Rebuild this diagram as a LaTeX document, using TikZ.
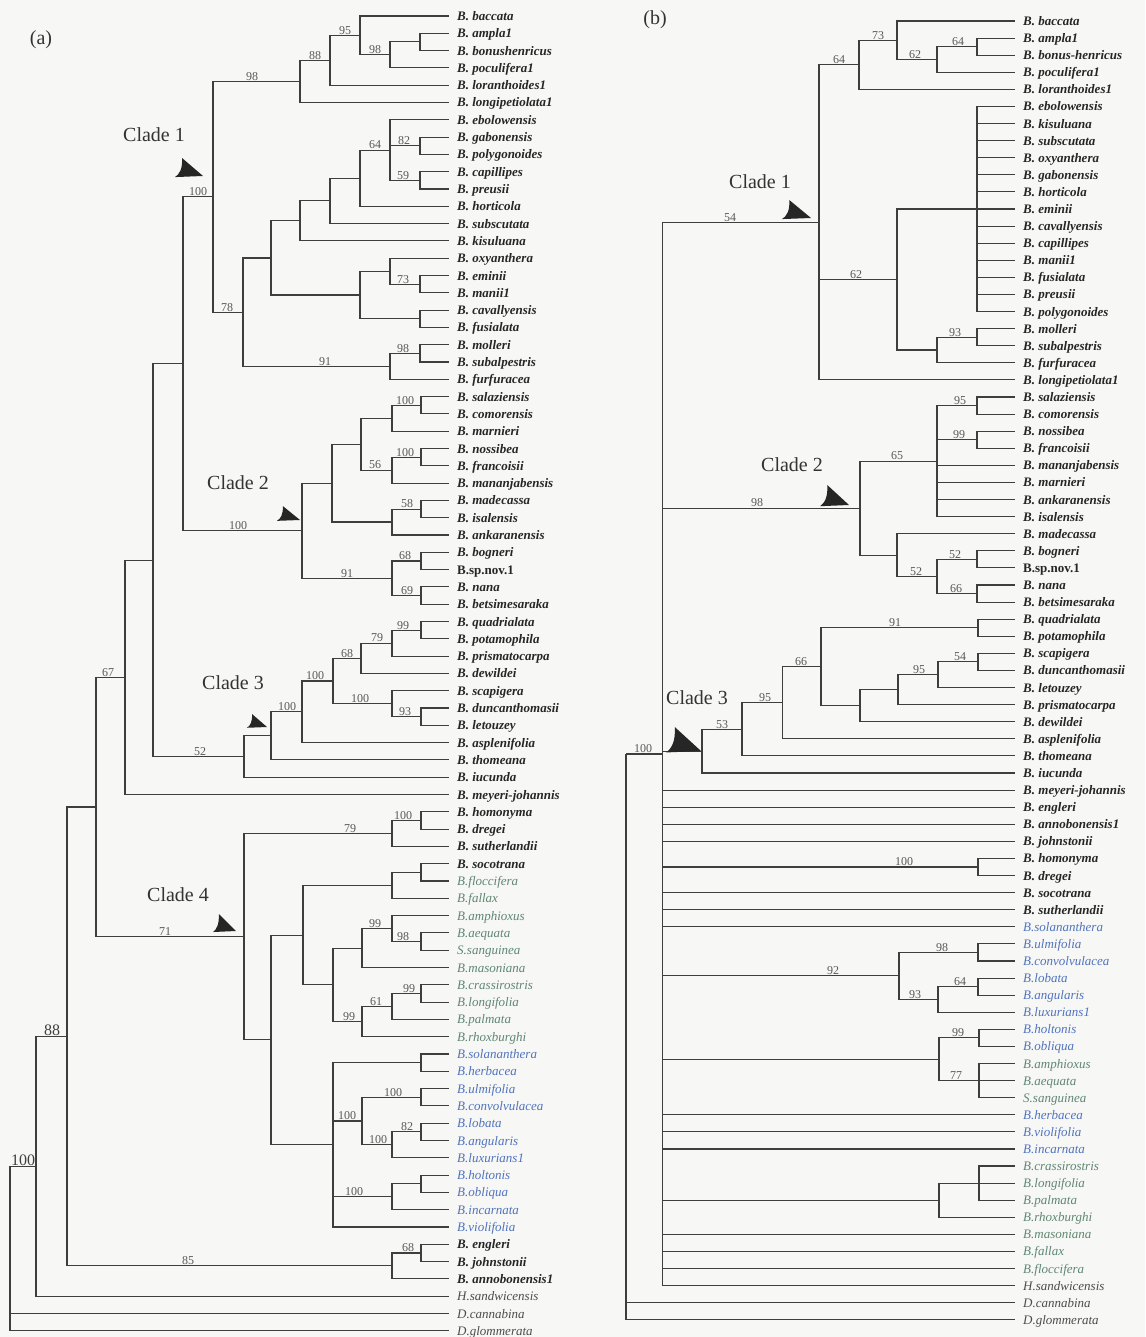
\documentclass[tikz,border=0pt]{standalone}
\usepackage{fontspec}
\setmainfont{Liberation Serif}
\definecolor{lgreen}{RGB}{95,135,115}
\definecolor{lblue}{RGB}{80,115,190}
\definecolor{brc}{RGB}{62,62,62}
\definecolor{bgc}{RGB}{247,247,245}
\newcommand\TrN[4]{\coordinate (#1) at (#2,#3);\foreach \c in {#4} {\draw[br] (#1) |- (\c);}}
\newcommand\LfA[5]{\coordinate (#1) at (#2,#3);\node[#4] (t#1) at ({#2+8},{#3+4.5}) {#5};}
\newcommand\SupV[4]{\node[bs] (#1) at (#2,#3) {#4};}
\newcommand\CArrow[4]{\begin{scope}[shift={(#1,#2)},xscale=#3,yscale=#4]
\fill[black!85] (0,0) -- (-0.75,-1) .. controls (-0.72,-0.4) and (-0.85,-0.08) .. (-1,0.06) -- cycle;
\end{scope}}
\begin{document}
\begin{tikzpicture}[x=1pt,y=-1pt,
  br/.style={draw=brc,line width=1.1pt},
  bs/.style={anchor=south,inner sep=0.8pt,font=\fontsize{12}{13}\selectfont,text=black!65},
  bsbig/.style={anchor=south,inner sep=0.8pt,font=\fontsize{16}{17}\selectfont,text=black!75},
  leafk/.style={anchor=base west,inner sep=0pt,font=\fontsize{13}{15}\selectfont\bfseries\itshape,text=black!85},
  leafr/.style={anchor=base west,inner sep=0pt,font=\fontsize{13}{15}\selectfont\bfseries,text=black!85},
  leafg/.style={anchor=base west,inner sep=0pt,font=\fontsize{13}{15}\selectfont\itshape,text=lgreen},
  leafu/.style={anchor=base west,inner sep=0pt,font=\fontsize{13}{15}\selectfont\itshape,text=lblue},
  leafo/.style={anchor=base west,inner sep=0pt,font=\fontsize{13}{15}\selectfont\itshape,text=black!70},
  cl/.style={inner sep=0pt,font=\fontsize{20}{22}\selectfont,text=black!80}]
\fill[bgc] (0,0) rectangle (1145,1337);
\useasboundingbox (0,0) rectangle (1145,1337);
\node[cl] (pa) at (41,40) {(a)};
\node[cl] (pb) at (655,20) {(b)};
% ---------------- tree (a) leaves
\LfA{la1}{449}{16.0}{leafk}{B. baccata}
\LfA{la2}{449}{33.3}{leafk}{B. ampla1}
\LfA{la3}{449}{50.6}{leafk}{B. bonushenricus}
\LfA{la4}{449}{67.9}{leafk}{B. poculifera1}
\LfA{la5}{449}{85.2}{leafk}{B. loranthoides1}
\LfA{la6}{449}{102.5}{leafk}{B. longipetiolata1}
\LfA{la7}{449}{119.8}{leafk}{B. ebolowensis}
\LfA{la8}{449}{137.1}{leafk}{B. gabonensis}
\LfA{la9}{449}{154.4}{leafk}{B. polygonoides}
\LfA{la10}{449}{171.7}{leafk}{B. capillipes}
\LfA{la11}{449}{189.0}{leafk}{B. preusii}
\LfA{la12}{449}{206.3}{leafk}{B. horticola}
\LfA{la13}{449}{223.6}{leafk}{B. subscutata}
\LfA{la14}{449}{240.9}{leafk}{B. kisuluana}
\LfA{la15}{449}{258.2}{leafk}{B. oxyanthera}
\LfA{la16}{449}{275.5}{leafk}{B. eminii}
\LfA{la17}{449}{292.8}{leafk}{B. manii1}
\LfA{la18}{449}{310.1}{leafk}{B. cavallyensis}
\LfA{la19}{449}{327.4}{leafk}{B. fusialata}
\LfA{la20}{449}{344.7}{leafk}{B. molleri}
\LfA{la21}{449}{362.0}{leafk}{B. subalpestris}
\LfA{la22}{449}{379.3}{leafk}{B. furfuracea}
\LfA{la23}{449}{396.6}{leafk}{B. salaziensis}
\LfA{la24}{449}{413.9}{leafk}{B. comorensis}
\LfA{la25}{449}{431.2}{leafk}{B. marnieri}
\LfA{la26}{449}{448.5}{leafk}{B. nossibea}
\LfA{la27}{449}{465.8}{leafk}{B. francoisii}
\LfA{la28}{449}{483.1}{leafk}{B. mananjabensis}
\LfA{la29}{449}{500.4}{leafk}{B. madecassa}
\LfA{la30}{449}{517.7}{leafk}{B. isalensis}
\LfA{la31}{449}{535.0}{leafk}{B. ankaranensis}
\LfA{la32}{449}{552.3}{leafk}{B. bogneri}
\LfA{la33}{449}{569.6}{leafr}{B.sp.nov.1}
\LfA{la34}{449}{586.9}{leafk}{B. nana}
\LfA{la35}{449}{604.2}{leafk}{B. betsimesaraka}
\LfA{la36}{449}{621.5}{leafk}{B. quadrialata}
\LfA{la37}{449}{638.8}{leafk}{B. potamophila}
\LfA{la38}{449}{656.1}{leafk}{B. prismatocarpa}
\LfA{la39}{449}{673.4}{leafk}{B. dewildei}
\LfA{la40}{449}{690.7}{leafk}{B. scapigera}
\LfA{la41}{449}{708.0}{leafk}{B. duncanthomasii}
\LfA{la42}{449}{725.3}{leafk}{B. letouzey}
\LfA{la43}{449}{742.6}{leafk}{B. asplenifolia}
\LfA{la44}{449}{759.9}{leafk}{B. thomeana}
\LfA{la45}{449}{777.2}{leafk}{B. iucunda}
\LfA{la46}{449}{794.5}{leafk}{B. meyeri-johannis}
\LfA{la47}{449}{811.8}{leafk}{B. homonyma}
\LfA{la48}{449}{829.1}{leafk}{B. dregei}
\LfA{la49}{449}{846.4}{leafk}{B. sutherlandii}
\LfA{la50}{449}{863.7}{leafk}{B. socotrana}
\LfA{la51}{449}{881.0}{leafg}{B.floccifera}
\LfA{la52}{449}{898.3}{leafg}{B.fallax}
\LfA{la53}{449}{915.6}{leafg}{B.amphioxus}
\LfA{la54}{449}{932.9}{leafg}{B.aequata}
\LfA{la55}{449}{950.2}{leafg}{S.sanguinea}
\LfA{la56}{449}{967.5}{leafg}{B.masoniana}
\LfA{la57}{449}{984.8}{leafg}{B.crassirostris}
\LfA{la58}{449}{1002.1}{leafg}{B.longifolia}
\LfA{la59}{449}{1019.4}{leafg}{B.palmata}
\LfA{la60}{449}{1036.7}{leafg}{B.rhoxburghi}
\LfA{la61}{449}{1054.0}{leafu}{B.solananthera}
\LfA{la62}{449}{1071.3}{leafu}{B.herbacea}
\LfA{la63}{449}{1088.6}{leafu}{B.ulmifolia}
\LfA{la64}{449}{1105.9}{leafu}{B.convolvulacea}
\LfA{la65}{449}{1123.2}{leafu}{B.lobata}
\LfA{la66}{449}{1140.5}{leafu}{B.angularis}
\LfA{la67}{449}{1157.8}{leafu}{B.luxurians1}
\LfA{la68}{449}{1175.1}{leafu}{B.holtonis}
\LfA{la69}{449}{1192.4}{leafu}{B.obliqua}
\LfA{la70}{449}{1209.7}{leafu}{B.incarnata}
\LfA{la71}{449}{1227.0}{leafu}{B.violifolia}
\LfA{la72}{449}{1244.3}{leafk}{B. engleri}
\LfA{la73}{449}{1261.6}{leafk}{B. johnstonii}
\LfA{la74}{449}{1278.9}{leafk}{B. annobonensis1}
\LfA{la75}{449}{1296.2}{leafo}{H.sandwicensis}
\LfA{la76}{449}{1313.5}{leafo}{D.cannabina}
\LfA{la77}{449}{1330.8}{leafo}{D.glommerata}
% ---------------- tree (a) internal nodes
\TrN{aA1}{420}{41.95}{la2,la3}
\TrN{aA2}{390}{54.9}{aA1,la4}
\TrN{aA3}{360}{35.5}{la1,aA2}
\TrN{aA4}{330}{60.3}{aA3,la5}
\TrN{aA5}{300}{81.4}{aA4,la6}
\TrN{aB1}{420}{145.75}{la8,la9}
\TrN{aB2}{420}{180.35}{la10,la11}
\TrN{aB3}{390}{150.1}{la7,aB1,aB2}
\TrN{aB4}{360}{178.2}{aB3,la12}
\TrN{aB5}{330}{200.9}{aB4,la13}
\TrN{aB6}{300}{220.9}{aB5,la14}
\TrN{aB7}{420}{284.15}{la16,la17}
\TrN{aB8}{390}{271.2}{la15,aB7}
\TrN{aB9}{420}{318.75}{la18,la19}
\TrN{aB10}{360}{295.0}{aB8,aB9}
\TrN{aB11}{271}{258.0}{aB6,aB10}
\TrN{aB12}{420}{353.35}{la20,la21}
\TrN{aB13}{390}{366.3}{aB12,la22}
\TrN{aB14}{243}{312.2}{aB11,aB13}
\TrN{aC1}{213}{196.8}{aA5,aB14}
\TrN{aD1}{421}{405.25}{la23,la24}
\TrN{aD2}{392}{418.2}{aD1,la25}
\TrN{aD3}{421}{457.15}{la26,la27}
\TrN{aD4}{392}{470.1}{aD3,la28}
\TrN{aD5}{361}{444.2}{aD2,aD4}
\TrN{aD6}{421}{509.05}{la29,la30}
\TrN{aD7}{392}{522.0}{aD6,la31}
\TrN{aD8}{332}{483.1}{aD5,aD7}
\TrN{aD9}{421}{560.95}{la32,la33}
\TrN{aD10}{421}{595.55}{la34,la35}
\TrN{aD11}{392}{578.25}{aD9,aD10}
\TrN{aC2}{302}{530.7}{aD8,aD11}
\TrN{aE1}{183}{363.75}{aC1,aC2}
\TrN{aF1}{421}{630.15}{la36,la37}
\TrN{aF2}{392}{643.1}{aF1,la38}
\TrN{aF3}{361}{658.3}{aF2,la39}
\TrN{aF4}{421}{716.65}{la41,la42}
\TrN{aF5}{392}{703.7}{la40,aF4}
\TrN{aF6}{333}{681.0}{aF3,aF5}
\TrN{aF7}{302}{711.8}{aF6,la43}
\TrN{aC3}{271}{735.85}{aF7,la44}
\TrN{aF8}{244}{756.5}{aC3,la45}
\TrN{aE2}{153}{560.1}{aE1,aF8}
\TrN{aE3}{125}{677.3}{aE2,la46}
\TrN{aG1}{421}{820.45}{la47,la48}
\TrN{aG2}{392}{833.4}{aG1,la49}
\TrN{aG3}{421}{872.35}{la50,la51}
\TrN{aG4}{392}{885.3}{aG3,la52}
\TrN{aG5}{421}{941.55}{la54,la55}
\TrN{aG6}{392}{928.6}{la53,aG5}
\TrN{aG7}{362}{948.05}{aG6,la56}
\TrN{aG8}{421}{993.45}{la57,la58}
\TrN{aG9}{392}{1006.4}{aG8,la59}
\TrN{aG10}{362}{1021.55}{aG9,la60}
\TrN{aG11}{333}{984.8}{aG7,aG10}
\TrN{aG12}{303}{935.05}{aG4,aG11}
\TrN{aH1}{421}{1062.65}{la61,la62}
\TrN{aH2}{421}{1097.25}{la63,la64}
\TrN{aH3}{421}{1131.85}{la65,la66}
\TrN{aH4}{392}{1144.8}{aH3,la67}
\TrN{aH5}{362}{1121.0}{aH2,aH4}
\TrN{aH6}{421}{1183.75}{la68,la69}
\TrN{aH7}{392}{1196.7}{aH6,la70}
\TrN{aH8}{333}{1144.8}{aH1,aH5,aH7,la71}
\TrN{aH9}{271}{1039.9}{aG12,aH8}
\TrN{aC4}{244}{936.65}{aG2,aH9}
\TrN{aE4}{96}{807.0}{aE3,aC4}
\TrN{aI1}{421}{1252.95}{la72,la73}
\TrN{aI2}{392}{1265.9}{aI1,la74}
\TrN{aE5}{67}{1036.45}{aE4,aI2}
\TrN{aE6}{36}{1166.3}{aE5,la75}
\TrN{aR}{10}{1166.3}{aE6,la76,la77}
% ---------------- tree (a) support values
\SupV{sA2}{375}{54.9}{98}
\SupV{sA3}{345}{35.5}{95}
\SupV{sA4}{315}{60.3}{88}
\SupV{sA5}{252}{81.4}{98}
\SupV{sB1}{404}{145.75}{82}
\SupV{sB2}{403}{180.35}{59}
\SupV{sB3}{375}{150.1}{64}
\SupV{sB7}{403}{284.15}{73}
\SupV{sB12}{403}{353.35}{98}
\SupV{sB13}{325}{366.3}{91}
\SupV{sB14}{227}{312.2}{78}
\SupV{sC1}{198}{196.8}{100}
\SupV{sD1}{405}{405.25}{100}
\SupV{sD3}{405}{457.15}{100}
\SupV{sD4}{375}{470.1}{56}
\SupV{sD6}{407}{509.05}{58}
\SupV{sD9}{405}{560.95}{68}
\SupV{sD10}{407}{595.55}{69}
\SupV{sD11}{347}{578.25}{91}
\SupV{sC2}{238}{530.7}{100}
\SupV{sF1}{403}{630.15}{99}
\SupV{sF2}{377}{643.1}{79}
\SupV{sF3}{347}{658.3}{68}
\SupV{sF4}{405}{716.65}{93}
\SupV{sF5}{360}{703.7}{100}
\SupV{sF6}{315}{681.0}{100}
\SupV{sF7}{287}{711.8}{100}
\SupV{sF8}{200}{756.5}{52}
\SupV{sE3}{108}{677.3}{67}
\SupV{sG1}{403}{820.45}{100}
\SupV{sG2}{350}{833.4}{79}
\SupV{sG5}{403}{941.55}{98}
\SupV{sG6}{375}{928.6}{99}
\SupV{sG8}{409}{993.45}{99}
\SupV{sG9}{376}{1006.4}{61}
\SupV{sG10}{349}{1021.55}{99}
\SupV{sH2}{393}{1097.25}{100}
\SupV{sH3}{407}{1131.85}{82}
\SupV{sH4}{378}{1144.8}{100}
\SupV{sH5}{347}{1121.0}{100}
\SupV{sH7}{354}{1196.7}{100}
\SupV{sC4}{165}{936.65}{71}
\SupV{sI1}{408}{1252.95}{68}
\SupV{sI2}{188}{1265.9}{85}
\node[bsbig] (sE5) at (52,1036.45) {88};
\node[bsbig] (sE6) at (23,1166.3) {100};
% ---------------- tree (a) clade marks
\node[cl] (ka1) at (154,135) {Clade 1};
\node[cl] (ka2) at (238,483) {Clade 2};
\node[cl] (ka3) at (233,683) {Clade 3};
\node[cl] (ka4) at (178,895) {Clade 4};
\CArrow{203}{176}{28}{18}
\CArrow{300}{520}{23}{14}
\CArrow{267}{727}{20}{13}
\CArrow{236}{931}{23}{17}
% ---------------- tree (b) leaves
\LfA{lb1}{1015}{21.00}{leafk}{B. baccata}
\LfA{lb2}{1015}{38.09}{leafk}{B. ampla1}
\LfA{lb3}{1015}{55.18}{leafk}{B. bonus-henricus}
\LfA{lb4}{1015}{72.27}{leafk}{B. poculifera1}
\LfA{lb5}{1015}{89.36}{leafk}{B. loranthoides1}
\LfA{lb6}{1015}{106.45}{leafk}{B. ebolowensis}
\LfA{lb7}{1015}{123.54}{leafk}{B. kisuluana}
\LfA{lb8}{1015}{140.63}{leafk}{B. subscutata}
\LfA{lb9}{1015}{157.72}{leafk}{B. oxyanthera}
\LfA{lb10}{1015}{174.81}{leafk}{B. gabonensis}
\LfA{lb11}{1015}{191.90}{leafk}{B. horticola}
\LfA{lb12}{1015}{208.99}{leafk}{B. eminii}
\LfA{lb13}{1015}{226.08}{leafk}{B. cavallyensis}
\LfA{lb14}{1015}{243.17}{leafk}{B. capillipes}
\LfA{lb15}{1015}{260.26}{leafk}{B. manii1}
\LfA{lb16}{1015}{277.35}{leafk}{B. fusialata}
\LfA{lb17}{1015}{294.44}{leafk}{B. preusii}
\LfA{lb18}{1015}{311.53}{leafk}{B. polygonoides}
\LfA{lb19}{1015}{328.62}{leafk}{B. molleri}
\LfA{lb20}{1015}{345.71}{leafk}{B. subalpestris}
\LfA{lb21}{1015}{362.80}{leafk}{B. furfuracea}
\LfA{lb22}{1015}{379.89}{leafk}{B. longipetiolata1}
\LfA{lb23}{1015}{396.98}{leafk}{B. salaziensis}
\LfA{lb24}{1015}{414.07}{leafk}{B. comorensis}
\LfA{lb25}{1015}{431.16}{leafk}{B. nossibea}
\LfA{lb26}{1015}{448.25}{leafk}{B. francoisii}
\LfA{lb27}{1015}{465.34}{leafk}{B. mananjabensis}
\LfA{lb28}{1015}{482.43}{leafk}{B. marnieri}
\LfA{lb29}{1015}{499.52}{leafk}{B. ankaranensis}
\LfA{lb30}{1015}{516.61}{leafk}{B. isalensis}
\LfA{lb31}{1015}{533.70}{leafk}{B. madecassa}
\LfA{lb32}{1015}{550.79}{leafk}{B. bogneri}
\LfA{lb33}{1015}{567.88}{leafr}{B.sp.nov.1}
\LfA{lb34}{1015}{584.97}{leafk}{B. nana}
\LfA{lb35}{1015}{602.06}{leafk}{B. betsimesaraka}
\LfA{lb36}{1015}{619.15}{leafk}{B. quadrialata}
\LfA{lb37}{1015}{636.24}{leafk}{B. potamophila}
\LfA{lb38}{1015}{653.33}{leafk}{B. scapigera}
\LfA{lb39}{1015}{670.42}{leafk}{B. duncanthomasii}
\LfA{lb40}{1015}{687.51}{leafk}{B. letouzey}
\LfA{lb41}{1015}{704.60}{leafk}{B. prismatocarpa}
\LfA{lb42}{1015}{721.69}{leafk}{B. dewildei}
\LfA{lb43}{1015}{738.78}{leafk}{B. asplenifolia}
\LfA{lb44}{1015}{755.87}{leafk}{B. thomeana}
\LfA{lb45}{1015}{772.96}{leafk}{B. iucunda}
\LfA{lb46}{1015}{790.05}{leafk}{B. meyeri-johannis}
\LfA{lb47}{1015}{807.14}{leafk}{B. engleri}
\LfA{lb48}{1015}{824.23}{leafk}{B. annobonensis1}
\LfA{lb49}{1015}{841.32}{leafk}{B. johnstonii}
\LfA{lb50}{1015}{858.41}{leafk}{B. homonyma}
\LfA{lb51}{1015}{875.50}{leafk}{B. dregei}
\LfA{lb52}{1015}{892.59}{leafk}{B. socotrana}
\LfA{lb53}{1015}{909.68}{leafk}{B. sutherlandii}
\LfA{lb54}{1015}{926.77}{leafu}{B.solananthera}
\LfA{lb55}{1015}{943.86}{leafu}{B.ulmifolia}
\LfA{lb56}{1015}{960.95}{leafu}{B.convolvulacea}
\LfA{lb57}{1015}{978.04}{leafu}{B.lobata}
\LfA{lb58}{1015}{995.13}{leafu}{B.angularis}
\LfA{lb59}{1015}{1012.22}{leafu}{B.luxurians1}
\LfA{lb60}{1015}{1029.31}{leafu}{B.holtonis}
\LfA{lb61}{1015}{1046.40}{leafu}{B.obliqua}
\LfA{lb62}{1015}{1063.49}{leafg}{B.amphioxus}
\LfA{lb63}{1015}{1080.58}{leafg}{B.aequata}
\LfA{lb64}{1015}{1097.67}{leafg}{S.sanguinea}
\LfA{lb65}{1015}{1114.76}{leafu}{B.herbacea}
\LfA{lb66}{1015}{1131.85}{leafu}{B.violifolia}
\LfA{lb67}{1015}{1148.94}{leafu}{B.incarnata}
\LfA{lb68}{1015}{1166.03}{leafg}{B.crassirostris}
\LfA{lb69}{1015}{1183.12}{leafg}{B.longifolia}
\LfA{lb70}{1015}{1200.21}{leafg}{B.palmata}
\LfA{lb71}{1015}{1217.30}{leafg}{B.rhoxburghi}
\LfA{lb72}{1015}{1234.39}{leafg}{B.masoniana}
\LfA{lb73}{1015}{1251.48}{leafg}{B.fallax}
\LfA{lb74}{1015}{1268.57}{leafg}{B.floccifera}
\LfA{lb75}{1015}{1285.66}{leafo}{H.sandwicensis}
\LfA{lb76}{1015}{1302.75}{leafo}{D.cannabina}
\LfA{lb77}{1015}{1319.84}{leafo}{D.glommerata}
% ---------------- tree (b) internal nodes
\TrN{bA1}{977}{46.64}{lb2,lb3}
\TrN{bA2}{937}{59.46}{bA1,lb4}
\TrN{bA3}{897}{40.23}{lb1,bA2}
\TrN{bA4}{859}{64.8}{bA3,lb5}
\TrN{bB1}{977}{209.0}{lb6,lb7,lb8,lb9,lb10,lb11,lb12,lb13,lb14,lb15,lb16,lb17,lb18}
\TrN{bB2}{977}{337.17}{lb19,lb20}
\TrN{bB3}{937}{350.0}{bB2,lb21}
\TrN{bB4}{897}{279.5}{bB1,bB3}
\TrN{bC1}{819}{222.3}{bA4,bB4,lb22}
\TrN{bD1}{977}{405.5}{lb23,lb24}
\TrN{bD2}{977}{439.7}{lb25,lb26}
\TrN{bD3}{937}{461.1}{bD1,bD2,lb27,lb28,lb29,lb30}
\TrN{bD4}{977}{559.3}{lb32,lb33}
\TrN{bD5}{977}{593.5}{lb34,lb35}
\TrN{bD6}{937}{576.4}{bD4,bD5}
\TrN{bD7}{897}{555.05}{lb31,bD6}
\TrN{bC2}{860}{508.1}{bD3,bD7}
\TrN{bF1}{978}{627.7}{lb36,lb37}
\TrN{bF2}{978}{661.9}{lb38,lb39}
\TrN{bF3}{938}{674.7}{bF2,lb40}
\TrN{bF4}{898}{689.65}{bF3,lb41}
\TrN{bF5}{860}{705.7}{bF4,lb42}
\TrN{bF6}{821}{666.7}{bF1,bF5}
\TrN{bF7}{782.5}{702.7}{bF6,lb43}
\TrN{bF8}{742}{729.3}{bF7,lb44}
\TrN{bC3}{702}{751.1}{bF8,lb45}
\TrN{bG1}{978}{866.96}{lb50,lb51}
\TrN{bG2}{978}{952.4}{lb55,lb56}
\TrN{bG3}{978}{986.6}{lb57,lb58}
\TrN{bG4}{938}{999.4}{bG3,lb59}
\TrN{bG5}{899}{975.9}{bG2,bG4}
\TrN{bG6}{979}{1037.85}{lb60,lb61}
\TrN{bG7}{979}{1080.58}{lb62,lb63,lb64}
\TrN{bG8}{939}{1059.2}{bG6,bG7}
\TrN{bG9}{979}{1183.12}{lb68,lb69,lb70}
\TrN{bG10}{939}{1200.2}{bG9,lb71}
\TrN{bM}{662.6}{754.0}{bC1,bC2,bC3,lb46,lb47,lb48,lb49,bG1,lb52,lb53,lb54,bG5,bG8,lb65,lb66,lb67,bG10,lb72,lb73,lb74,lb75}
\TrN{bR}{626}{754.0}{bM,lb76,lb77}
% ---------------- tree (b) support values
\SupV{tA1}{958}{46.64}{64}
\SupV{tA2}{915}{59.46}{62}
\SupV{tA3}{878}{40.23}{73}
\SupV{tA4}{839}{64.8}{64}
\SupV{tB2}{955}{337.17}{93}
\SupV{tB4}{856}{279.5}{62}
\SupV{tC1}{730}{222.3}{54}
\SupV{tD1}{960}{405.5}{95}
\SupV{tD2}{959}{439.7}{99}
\SupV{tD3}{897}{461.1}{65}
\SupV{tD4}{955}{559.3}{52}
\SupV{tD5}{956}{593.5}{66}
\SupV{tD6}{916}{576.4}{52}
\SupV{tC2}{757}{508.1}{98}
\SupV{tF1}{895}{627.7}{91}
\SupV{tF2}{960}{661.9}{54}
\SupV{tF3}{919}{674.7}{95}
\SupV{tF6}{801}{666.7}{66}
\SupV{tF7}{765}{702.7}{95}
\SupV{tF8}{722}{729.3}{53}
\SupV{tG1}{904}{866.96}{100}
\SupV{tG2}{942}{952.4}{98}
\SupV{tG3}{960}{986.6}{64}
\SupV{tG4}{915}{999.4}{93}
\SupV{tG5}{833}{975.9}{92}
\SupV{tG6}{958}{1037.85}{99}
\SupV{tG7}{956}{1080.58}{77}
\SupV{tM}{643}{754.0}{100}
% ---------------- tree (b) clade marks
\node[cl] (kb1) at (760,182) {Clade 1};
\node[cl] (kb2) at (792,465) {Clade 2};
\node[cl] (kb3) at (697,698) {Clade 3};
\CArrow{811}{218}{29}{18}
\CArrow{849}{505}{29}{20}
\CArrow{701}{751}{35}{24}
\end{tikzpicture}
\end{document}
